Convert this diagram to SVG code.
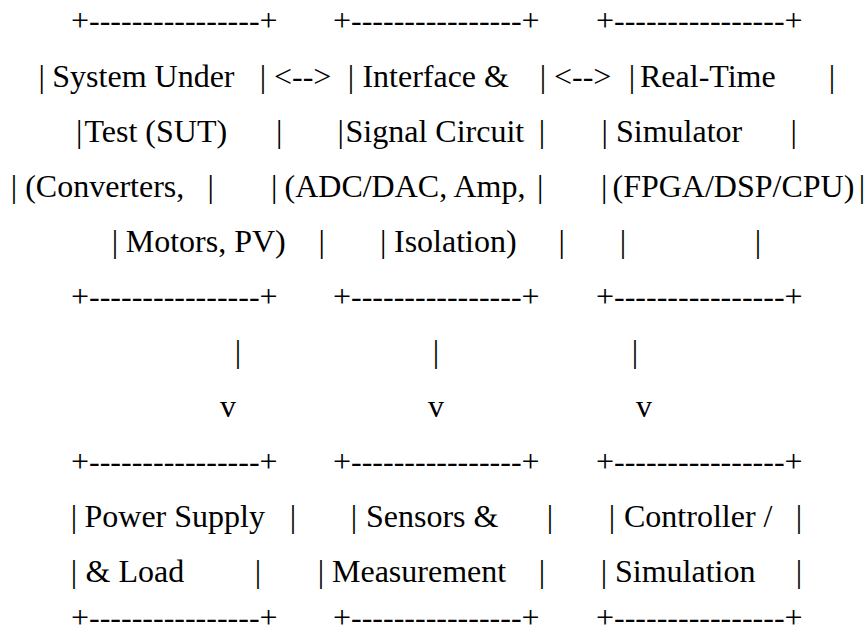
<svg xmlns="http://www.w3.org/2000/svg" width="864" height="636" viewBox="0 0 864 636">
<style>
text{font-family:"Liberation Serif","Times New Roman",serif;font-size:32px;fill:#000;white-space:pre}
</style>
<rect width="864" height="636" fill="#fff"/>
<g id="sut">
<text x="71" y="31">+----------------+</text>
<text x="38.5" y="87">|</text><text x="52.3" y="87">System Under</text><text x="259.8" y="87">|</text>
<text x="76.1" y="142">|</text><text x="84.5" y="142">Test (SUT)</text><text x="276.1" y="142">|</text>
<text x="10.8" y="197">|</text><text x="25.2" y="197">(Converters,</text><text x="207.5" y="197">|</text>
<text x="111.8" y="252">|</text><text x="125.7" y="252">Motors, PV)</text><text x="318.5" y="252">|</text>
<text x="71" y="307">+----------------+</text>
</g>
<g id="interface">
<text x="333" y="31">+----------------+</text>
<text x="347.8" y="87">|</text><text x="362.4" y="87">Interface &amp;</text><text x="539.8" y="87">|</text>
<text x="337.5" y="142">|</text><text x="345.5" y="142">Signal Circuit</text><text x="538.8" y="142">|</text>
<text x="271" y="197">|</text><text x="284.5" y="197">(ADC/DAC, Amp,</text><text x="537" y="197">|</text>
<text x="380" y="252">|</text><text x="394" y="252">Isolation)</text><text x="558.5" y="252">|</text>
<text x="333" y="307">+----------------+</text>
</g>
<g id="simulator">
<text x="596" y="31">+----------------+</text>
<text x="628.8" y="87">|</text><text x="640" y="87">Real-Time</text><text x="828.8" y="87">|</text>
<text x="601.5" y="142">|</text><text x="616" y="142">Simulator</text><text x="790.5" y="142">|</text>
<text x="601" y="197">|</text><text x="612.5" y="197">(FPGA/DSP/CPU)</text><text x="858.8" y="197">|</text>
<text x="619.8" y="252">|</text><text x="754.8" y="252">|</text>
<text x="596" y="307">+----------------+</text>
</g>
<g id="power">
<text x="71" y="472">+----------------+</text>
<text x="70.8" y="527">|</text><text x="84.5" y="527">Power Supply</text><text x="289.8" y="527">|</text>
<text x="70.8" y="582">|</text><text x="85.5" y="582">&amp; Load</text><text x="254.8" y="582">|</text>
<text x="71" y="628">+----------------+</text>
</g>
<g id="sensors">
<text x="333" y="472">+----------------+</text>
<text x="350.8" y="527">|</text><text x="366" y="527">Sensors &amp;</text><text x="546.8" y="527">|</text>
<text x="317.8" y="582">|</text><text x="332" y="582">Measurement</text><text x="538.8" y="582">|</text>
<text x="333" y="628">+----------------+</text>
</g>
<g id="controller">
<text x="596" y="472">+----------------+</text>
<text x="608.8" y="527">|</text><text x="624" y="527">Controller /</text><text x="795.8" y="527">|</text>
<text x="600.8" y="582">|</text><text x="615" y="582">Simulation</text><text x="795.8" y="582">|</text>
<text x="596" y="628">+----------------+</text>
</g>
<g id="connectors">
<text x="274" y="87">&lt;--&gt;</text>
<text x="554" y="87">&lt;--&gt;</text>
<text x="234.8" y="362">|</text><text x="432.8" y="362">|</text><text x="631.8" y="362">|</text>
<text x="220" y="417">v</text><text x="428" y="417">v</text><text x="636" y="417">v</text>
</g>
</svg>
